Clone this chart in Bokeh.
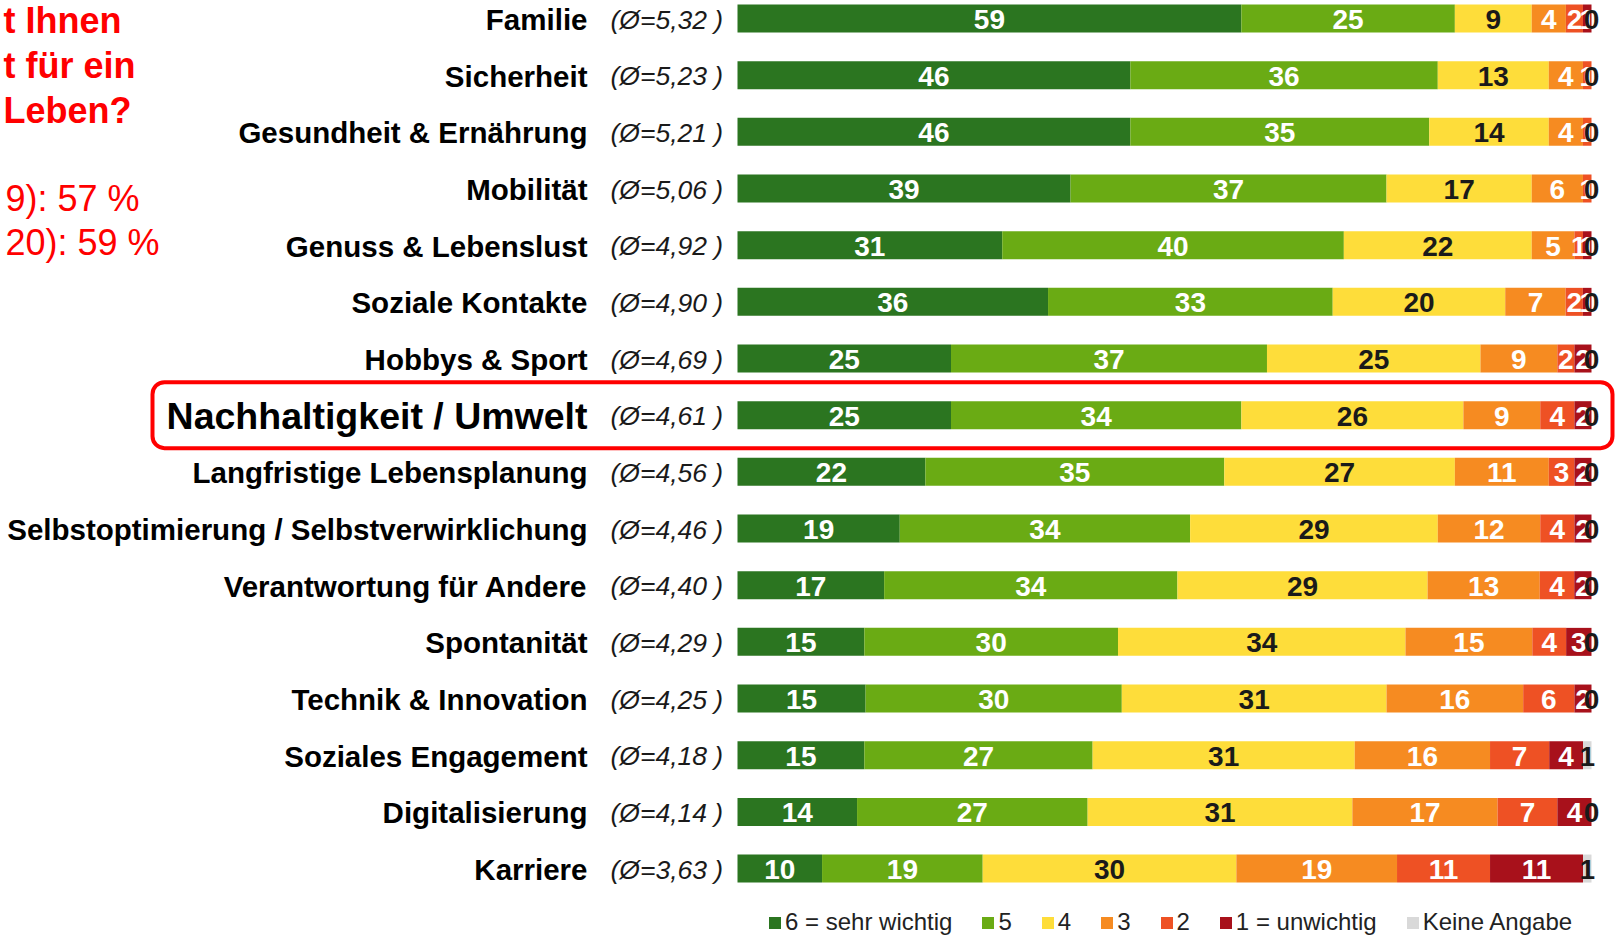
import numpy as np
from bokeh.plotting import figure
from bokeh.models import ColumnDataSource, Range1d, BoxAnnotation, Legend, LegendItem, Label
from bokeh.core.properties import value
from bokeh.embed import file_html
from bokeh.resources import INLINE

# ---------------- data ----------------
categories = ["Familie", "Sicherheit", "Gesundheit & Ernährung", "Mobilität",
              "Genuss & Lebenslust", "Soziale Kontakte", "Hobbys & Sport",
              "Nachhaltigkeit / Umwelt", "Langfristige Lebensplanung",
              "Selbstoptimierung / Selbstverwirklichung", "Verantwortung für Andere",
              "Spontanität", "Technik & Innovation", "Soziales Engagement",
              "Digitalisierung", "Karriere"]
averages = [5.32, 5.23, 5.21, 5.06, 4.92, 4.90, 4.69, 4.61, 4.56, 4.46, 4.40,
            4.29, 4.25, 4.18, 4.14, 3.63]
rating_6 = [59, 46, 46, 39, 31, 36, 25, 25, 22, 19, 17, 15, 15, 15, 14, 10]
rating_5 = [25, 36, 35, 37, 40, 33, 37, 34, 35, 34, 34, 30, 30, 27, 27, 19]
rating_4 = [9, 13, 14, 17, 22, 20, 25, 26, 27, 29, 29, 34, 31, 31, 31, 30]
rating_3 = [4, 4, 4, 6, 5, 7, 9, 9, 11, 12, 13, 15, 16, 16, 17, 19]
rating_2 = [2, 1, 1, 1, 1, 2, 2, 4, 3, 4, 4, 4, 6, 7, 7, 11]
rating_1 = [1, 0, 0, 0, 1, 1, 2, 2, 2, 2, 2, 3, 2, 4, 4, 11]
keine_angabe = [0, 0, 0, 0, 0, 0, 0, 0, 0, 0, 0, 0, 0, 1, 0, 1]
series_names = ["6 = sehr wichtig", "5", "4", "3", "2", "1 = unwichtig", "Keine Angabe"]
series_colors = ["#2b7520", "#6aab14", "#fedd3a", "#f68b21", "#ee5124", "#a8111b", "#d9d9d9"]
label_colors = ["white", "white", "#1a1a1a", "white", "white", "white", "#1a1a1a"]
highlight = "Nachhaltigkeit / Umwelt"
title_lines = ["t Ihnen", "t für ein", "Leben?"]
sub_lines = ["9): 57 %", "20): 59 %"]

# ---------------- layout ----------------
W, H = 1615, 936
X0_PX, X100_PX = 737, 1591          # pixel position of 0 % and 100 %
ROW0_PX, ROW_PITCH = 18, 56.67       # pixel centre of first row, row pitch
pxu = (X100_PX - X0_PX) / 100.0
FONT_NAME = "Liberation Sans"
FONT = value(FONT_NAME)

p = figure(width=W, height=H, output_backend="svg", toolbar_location=None,
           x_range=Range1d(-X0_PX / pxu, 100 + (W - X100_PX) / pxu),
           y_range=Range1d((H - ROW0_PX) / ROW_PITCH, -ROW0_PX / ROW_PITCH),
           min_border=0, outline_line_color=None)
p.axis.visible = False
p.grid.visible = False
p.background_fill_color = "white"

series = [rating_6, rating_5, rating_4, rating_3, rating_2, rating_1, keine_angabe]
vals = np.array(series, dtype=float)           # shape (7, n)
totals = vals.sum(axis=0)
shares = vals / totals * 100.0
rights = np.cumsum(shares, axis=0)
lefts = rights - shares
ypos = np.arange(len(categories))

items = []
label_sources = []
for k in range(len(series)):
    src = ColumnDataSource(dict(y=ypos, left=lefts[k], right=rights[k],
                                mid=(lefts[k] + rights[k]) / 2,
                                lab=[str(int(v)) for v in series[k]]))
    r = p.hbar(y="y", left="left", right="right", height=28 / ROW_PITCH, source=src,
               fill_color=series_colors[k], line_color=None)
    items.append(LegendItem(label=series_names[k], renderers=[r]))
    label_sources.append(src)

for k in range(len(series)):
    p.text(x="mid", y="y", text="lab", source=label_sources[k], text_font=FONT,
           text_font_style="bold", text_font_size="28px", text_color=label_colors[k],
           text_align="center", text_baseline="alphabetic", y_offset=1)

# category labels
LABEL_X = (587 - X0_PX) / pxu
AVG_X = (610 - X0_PX) / pxu
norm_idx = [i for i, c in enumerate(categories) if c != highlight]
hi_idx = [i for i, c in enumerate(categories) if c == highlight]
cat_src = ColumnDataSource(dict(y=ypos[norm_idx], t=[categories[i] for i in norm_idx]))
hi_src = ColumnDataSource(dict(y=ypos[hi_idx], t=[categories[i] for i in hi_idx]))
p.text(x=LABEL_X, y="y", text="t", source=cat_src, text_font=FONT, text_font_style="bold",
       text_font_size="29.5px", text_color="black", text_align="right",
       text_baseline="alphabetic", y_offset=1)
p.text(x=LABEL_X, y="y", text="t", source=hi_src, text_font=FONT, text_font_style="bold",
       text_font_size="37.5px", text_color="black", text_align="right",
       text_baseline="alphabetic", y_offset=1)
avg_src = ColumnDataSource(dict(y=ypos, t=[("(Ø=%.2f )" % a).replace(".", ",") for a in averages]))
p.text(x=AVG_X, y="y", text="t", source=avg_src, text_font=FONT, text_font_style="italic",
       text_font_size="26.5px", text_color="#1a1a1a", text_align="left",
       text_baseline="alphabetic", y_offset=1)

# highlight box
hrow = categories.index(highlight)
box = BoxAnnotation(left=(152 - X0_PX) / pxu, right=(1612 - X0_PX) / pxu,
                    top=hrow - 33 / ROW_PITCH, bottom=hrow + 33 / ROW_PITCH,
                    fill_alpha=0, line_color="#ff0000", line_alpha=1.0, line_width=4,
                    border_radius=12)
p.add_layout(box)

# red title fragments (baseline positions shifted for Bokeh's text metrics)
for i, t in enumerate(title_lines):
    p.add_layout(Label(x=3, y=H - (20 + 45 * i), x_units="screen", y_units="screen", text=t,
                       text_color="#ff0000", text_font=FONT_NAME, text_font_style="bold",
                       text_font_size="36px", text_baseline="alphabetic"))
for i, t in enumerate(sub_lines):
    p.add_layout(Label(x=5, y=H - (198 + 44 * i), x_units="screen", y_units="screen", text=t,
                       text_color="#ff0000", text_font=FONT_NAME, text_font_size="36px",
                       text_baseline="alphabetic"))

legend = Legend(items=items, orientation="horizontal", location=(767, 0),
                label_text_font=FONT_NAME, label_text_font_size="24px", label_text_color="#222222",
                glyph_width=15, glyph_height=15, label_standoff=3, label_width=0, spacing=28,
                padding=0, margin=0, border_line_color=None, background_fill_alpha=0)
p.add_layout(legend)

open("out.html", "w").write(file_html(p, INLINE))
